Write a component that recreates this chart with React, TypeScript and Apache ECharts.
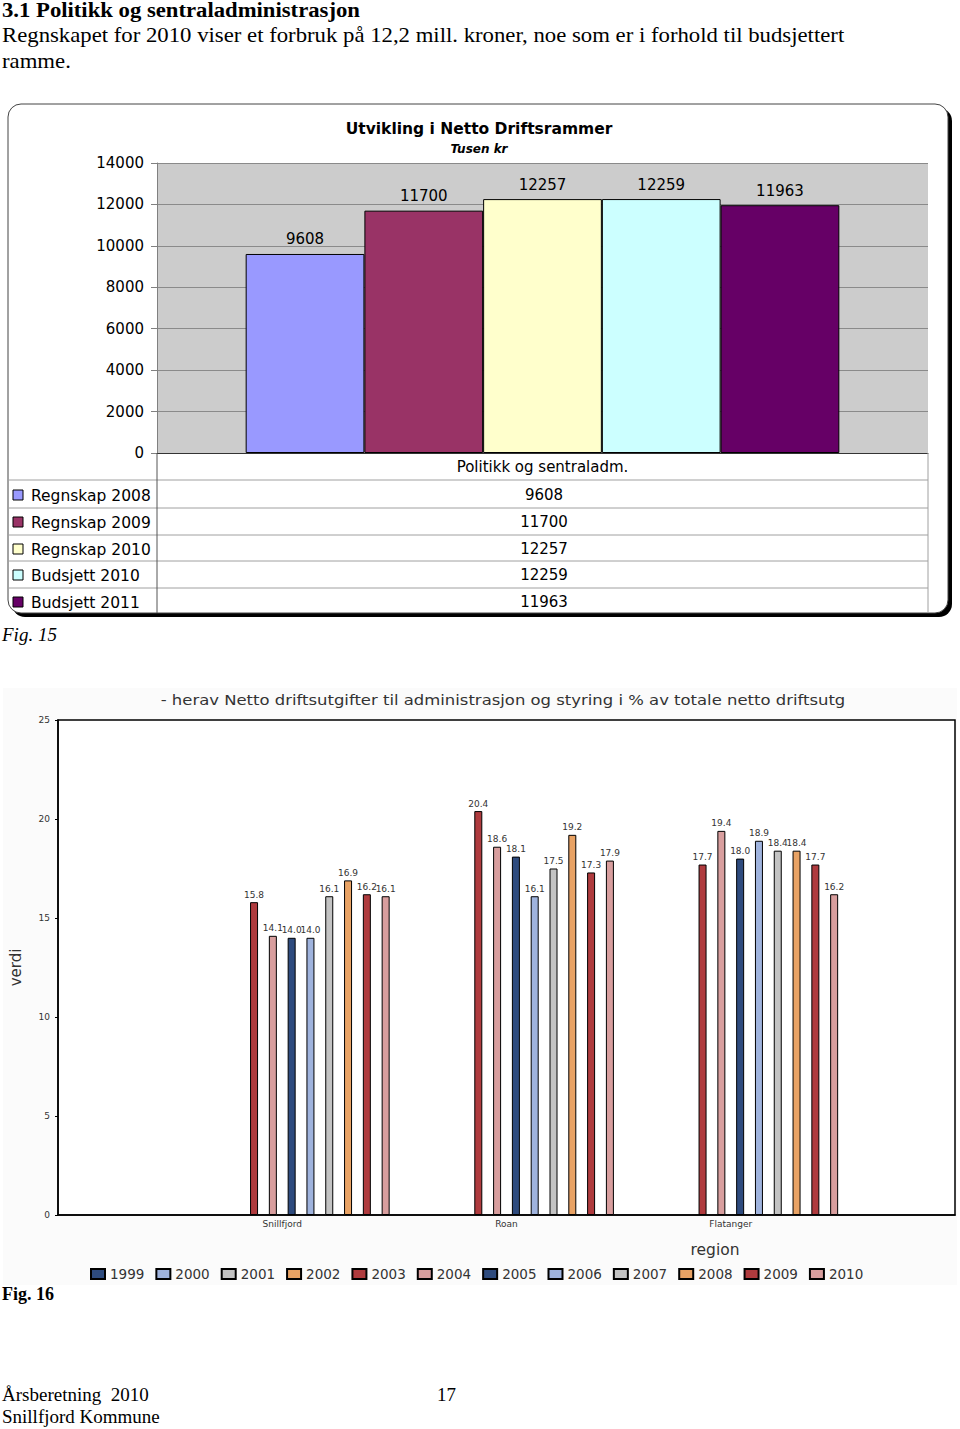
import React, { useEffect, useRef } from 'react';
import * as echarts from 'echarts';

// ---------- Fig. 15 data ----------
const fig15Category = ['Politikk og sentraladm.'];
const fig15Names = ['Regnskap 2008', 'Regnskap 2009', 'Regnskap 2010', 'Budsjett 2010', 'Budsjett 2011'];
const fig15Values = [9608, 11700, 12257, 12259, 11963];
const fig15Colors = ['#9999FF', '#993366', '#FFFFCC', '#CCFFFF', '#660066'];

// ---------- Fig. 16 data ----------
const fig16Regions = ['', 'Snillfjord', 'Roan', 'Flatanger', ''];
const fig16Years = ['1999', '2000', '2001', '2002', '2003', '2004', '2005', '2006', '2007', '2008', '2009', '2010'];
const snillfjord = [null, null, null, null, 15.8, 14.1, 14.0, 14.0, 16.1, 16.9, 16.2, 16.1];
const roan = [null, null, null, null, 20.4, 18.6, 18.1, 16.1, 17.5, 19.2, 17.3, 17.9];
const flatanger = [null, null, null, null, 17.7, 19.4, 18.0, 18.9, 18.4, 18.4, 17.7, 16.2];
const fig16Colors = [
  '#2E4B7E', '#9FB3DD', '#C3C3C3', '#E8A264', '#AF3B3E', '#D89E9E',
  '#2E4B7E', '#9FB3DD', '#C3C3C3', '#E8A264', '#AF3B3E', '#D89E9E',
];

const serif = '"Liberation Serif", "Times New Roman", serif';
const sans = '"DejaVu Sans", sans-serif';

function txt(x: number, y: number, text: string, size: number, o: any = {}) {
  return {
    type: 'text',
    x,
    y,
    scaleX: o.scaleX || 1,
    z: 20,
    style: {
      text,
      fontSize: size,
      fontFamily: o.family || serif,
      fontWeight: o.weight || 'normal',
      fontStyle: o.style || 'normal',
      fill: o.color || '#000',
      align: o.align || 'left',
      verticalAlign: 'middle',
    },
  };
}

function hline(x1: number, x2: number, y: number, color: string, w = 1) {
  return { type: 'line', z: 20, shape: { x1, y1: y, x2, y2: y }, style: { stroke: color, lineWidth: w } };
}
function vline(x: number, y1: number, y2: number, color: string, w = 1) {
  return { type: 'line', z: 20, shape: { x1: x, y1, x2: x, y2 }, style: { stroke: color, lineWidth: w } };
}

export default function App() {
  const ref = useRef<HTMLDivElement>(null);

  useEffect(() => {
    if (!ref.current) return;
    const chart = echarts.init(ref.current, null, { renderer: 'svg' });

    const rowY = [495, 522, 549, 575, 602];
    const tableLinesY = [480, 508, 535, 561, 588];

    const graphic: any[] = [
      // page text
      txt(2, 10, '3.1 Politikk og sentraladministrasjon', 20, { weight: 'bold', scaleX: 1.135 }),
      txt(2, 35, 'Regnskapet for 2010 viser et forbruk på 12,2 mill. kroner, noe som er i forhold til budsjettert', 20, { scaleX: 1.138 }),
      txt(2, 61, 'ramme.', 20, { scaleX: 1.138 }),
      // fig 15 box (shadow + box)
      { type: 'rect', z: -20, shape: { x: 12, y: 108, width: 940, height: 509, r: 13 }, style: { fill: '#000' } },
      { type: 'rect', z: -19, shape: { x: 8, y: 104, width: 940, height: 509, r: 13 }, style: { fill: '#fff', stroke: '#444', lineWidth: 1 } },
      // table lines
      ...tableLinesY.map((y) => hline(9, 928, y, '#a0a0a0')),
      vline(157, 453, 613, '#555'),
      vline(928, 453, 613, '#a0a0a0'),
      // table rows
      ...fig15Names.map((n, i) => ({
        type: 'rect', z: 20,
        shape: { x: 13, y: rowY[i] - 5, width: 10, height: 10 },
        style: { fill: fig15Colors[i], stroke: '#000', lineWidth: 1 },
      })),
      ...fig15Names.map((n, i) => txt(31, rowY[i] + 1, n, 15.5, { family: sans })),
      ...fig15Values.map((v, i) => txt(544, rowY[i], String(v), 15, { family: sans, align: 'center' })),
      txt(2, 634, 'Fig. 15', 19, { style: 'italic' }),
      // fig 16
      { type: 'rect', z: -20, shape: { x: 3, y: 688, width: 954, height: 597 }, style: { fill: '#fbfbfb' } },
      txt(503, 700, '- herav Netto driftsutgifter til administrasjon og styring i % av totale netto driftsutg', 14, {
        family: sans, color: '#333', align: 'center', scaleX: 1.175,
      }),
      txt(715, 1250, 'region', 15.5, { family: sans, color: '#333', align: 'center' }),
      txt(2, 1294, 'Fig. 16', 18, { weight: 'bold' }),
      // footer
      txt(2, 1394, 'Årsberetning  2010', 19),
      txt(437, 1394, '17', 19),
      txt(2, 1416, 'Snillfjord Kommune', 19),
    ];

    const fig15Series = fig15Names.map((n, i) => ({
      name: n,
      type: 'bar',
      xAxisIndex: 0,
      yAxisIndex: 0,
      data: [fig15Values[i]],
      barGap: '0%',
      barCategoryGap: '23%',
      itemStyle: { color: fig15Colors[i], borderColor: '#000', borderWidth: 1 },
      label: { show: true, position: 'top', distance: 7, fontSize: 15, fontFamily: sans, color: '#000' },
    }));

    const fig16Series = fig16Years.map((y, i) => ({
      name: y,
      type: 'bar',
      xAxisIndex: 1,
      yAxisIndex: 1,
      data: [null, snillfjord[i], roan[i], flatanger[i], null],
      barWidth: 8,
      barGap: '135%',
      itemStyle: { color: fig16Colors[i], borderColor: '#000', borderWidth: 1 },
      label: {
        show: true,
        position: 'top',
        distance: 3,
        fontSize: 9,
        fontFamily: sans,
        color: '#333',
        formatter: (p: any) => (p.value == null ? '' : Number(p.value).toFixed(1)),
      },
    }));

    const option: any = {
      animation: false,
      textStyle: { fontFamily: sans },
      title: [
        {
          text: 'Utvikling i Netto Driftsrammer', left: 479, top: 121, textAlign: 'center', padding: 0,
          textStyle: { fontSize: 15.5, fontWeight: 'bold', color: '#000', fontFamily: sans },
        },
        {
          text: 'Tusen kr', left: 479, top: 143, textAlign: 'center', padding: 0,
          textStyle: { fontSize: 12, fontWeight: 'bold', fontStyle: 'italic', color: '#000', fontFamily: sans },
        },
      ],
      legend: {
        data: fig16Years,
        left: 90,
        top: 1267,
        itemWidth: 14,
        itemHeight: 10,
        itemGap: 11,
        padding: 0,
        icon: 'rect',
        textStyle: { fontSize: 13.5, color: '#333', fontFamily: sans },
      },
      graphic,
      grid: [
        { left: 157, top: 163, width: 771, height: 290, show: true, backgroundColor: '#CCCCCC', borderWidth: 0 },
        { left: 57, top: 720, width: 898, height: 495, show: true, backgroundColor: '#fff', borderColor: '#000', borderWidth: 1.5 },
      ],
      xAxis: [
        {
          type: 'category', gridIndex: 0, data: fig15Category,
          axisLine: { lineStyle: { color: '#333' } },
          axisTick: { show: false },
          axisLabel: { fontSize: 15, color: '#000', margin: 6, fontFamily: sans },
        },
        {
          type: 'category', gridIndex: 1, data: fig16Regions, boundaryGap: false,
          axisLine: { lineStyle: { color: '#000', width: 1.5 } },
          axisTick: { show: false },
          splitLine: { show: false },
          axisLabel: { fontSize: 9, color: '#333', interval: 0, margin: 4, fontFamily: sans },
        },
      ],
      yAxis: [
        {
          type: 'value', gridIndex: 0, min: 0, max: 14000, interval: 2000,
          axisLine: { show: true, lineStyle: { color: '#808080' } },
          axisTick: { show: true, length: 6, lineStyle: { color: '#808080' } },
          axisLabel: { fontSize: 15, color: '#000', margin: 13, fontFamily: sans, formatter: (v: number) => String(v) },
          splitLine: { show: true, lineStyle: { color: '#8a8a8a' } },
        },
        {
          type: 'value', gridIndex: 1, min: 0, max: 25, interval: 5,
          name: 'verdi', nameLocation: 'middle', nameRotate: 90, nameGap: 35,
          nameTextStyle: { fontSize: 15, color: '#333', fontFamily: sans },
          axisLine: { show: true, lineStyle: { color: '#000', width: 1.5 } },
          axisTick: { show: true, length: 3, lineStyle: { color: '#000' } },
          axisLabel: { fontSize: 9, color: '#333', margin: 8, fontFamily: sans, formatter: (v: number) => String(v) },
          splitLine: { show: false },
        },
      ],
      series: [...fig15Series, ...fig16Series],
    };

    chart.setOption(option);
    return () => chart.dispose();
  }, []);

  return (
    <div
      ref={ref}
      style={{ position: 'absolute', left: 0, top: 0, width: 960, height: 1429, background: '#fff' }}
    />
  );
}
